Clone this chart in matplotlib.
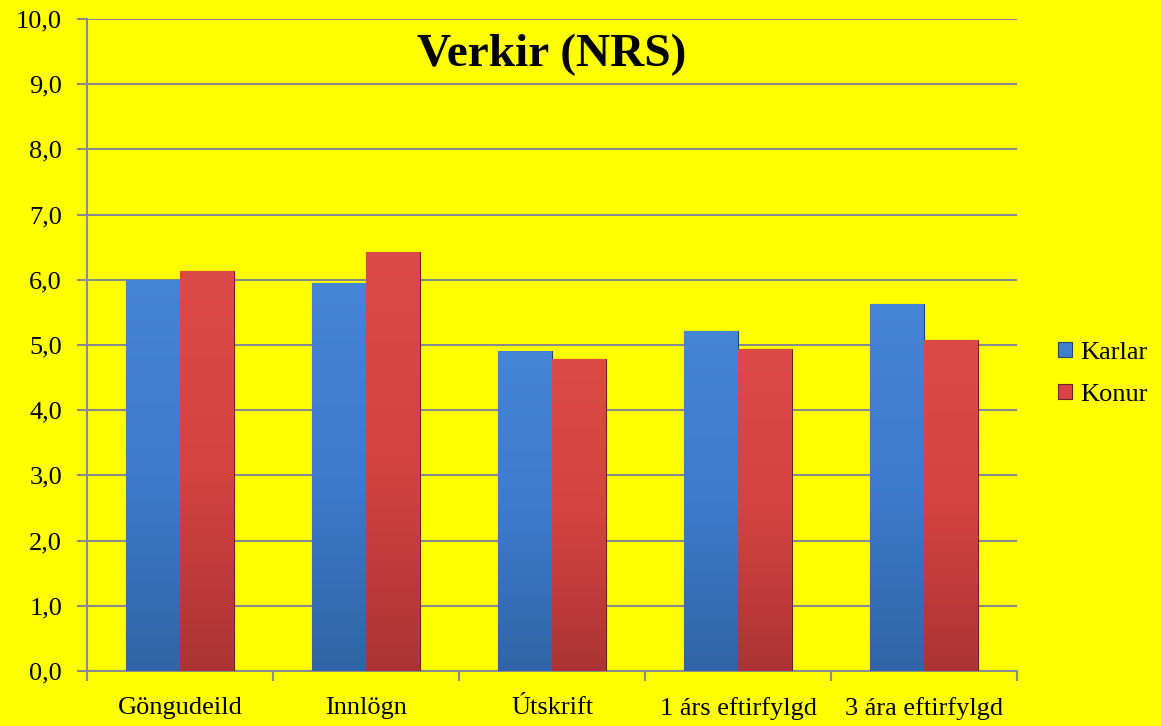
import numpy as np
import matplotlib
matplotlib.use("Agg")
import matplotlib.pyplot as plt
from matplotlib.colors import LinearSegmentedColormap

plt.rcParams['font.family'] = ['Liberation Serif', 'DejaVu Serif']

categories = ["Göngudeild", "Innlögn", "Útskrift", "1 árs eftirfylgd", "3 ára eftirfylgd"]
karlar = [6.0, 5.95, 4.91, 5.21, 5.63]
konur = [6.13, 6.42, 4.78, 4.94, 5.08]
yticks = np.arange(0, 10.01, 1.0)

fig = plt.figure(figsize=(11.61, 7.26), dpi=100, facecolor="#FFFF00")
ax = fig.add_axes([0.075, 0.0758, 0.801, 0.898])
ax.set_facecolor("#FFFF00")

x = np.arange(len(categories))
w = 0.29
b1 = ax.bar(x - w / 2, karlar, w, color="#3F7FD0", edgecolor="#24456e", linewidth=0.8, zorder=3, label="Karlar")
b2 = ax.bar(x + w / 2, konur, w, color="#D94442", edgecolor="#6e2424", linewidth=0.8, zorder=3, label="Konur")

# soft vertical shading like the bevelled bars
cm_blue = LinearSegmentedColormap.from_list("b", ["#3164A6", "#3D7BCB", "#4585D6"])
cm_red = LinearSegmentedColormap.from_list("r", ["#AA3434", "#D4433F", "#DD4A46"])
grad = np.linspace(0, 1, 256).reshape(-1, 1)
for bars, cm in ((b1, cm_blue), (b2, cm_red)):
    for r in bars:
        x0, y0 = r.get_x(), r.get_y()
        im = ax.imshow(grad, cmap=cm, origin="lower", aspect="auto",
                       extent=[x0, x0 + r.get_width(), y0, y0 + r.get_height()], zorder=3.5)
        im.set_clip_path(r)

ax.set_xlim(-0.5, len(categories) - 0.5)
ax.set_ylim(0, 10)
ax.set_yticks(yticks)
ax.set_yticklabels([f"{v:.1f}".replace(".", ",") for v in yticks])
ax.set_xticks(x)
ax.set_xticklabels(categories)
ax.set_xticks(np.arange(-0.5, len(categories)), minor=True)
ax.tick_params(axis="x", which="major", length=0, pad=19, labelsize=19)
ax.tick_params(axis="x", which="minor", length=7, color="#8A8A8A", width=1.5)
ax.tick_params(axis="y", length=7, color="#8A8A8A", width=1.5, labelsize=19, pad=11)
ax.grid(axis="y", color="#8A8A8A", linewidth=1.5, zorder=1)

for s in ("top", "right"):
    ax.spines[s].set_visible(False)
for s in ("left", "bottom"):
    ax.spines[s].set_color("#8A8A8A")
    ax.spines[s].set_linewidth(1.5)

ax.text(0.5, 0.977, "Verkir (NRS)", transform=ax.transAxes, ha="center", va="top",
        fontsize=34, fontweight="bold")

ax.legend(loc="center left", bbox_to_anchor=(1.044, 0.456), frameon=False, fontsize=19,
          handlelength=0.55, handleheight=0.55, handletextpad=0.3, labelspacing=0.75,
          borderpad=0, borderaxespad=0)

fig.savefig("out.png", facecolor=fig.get_facecolor())
